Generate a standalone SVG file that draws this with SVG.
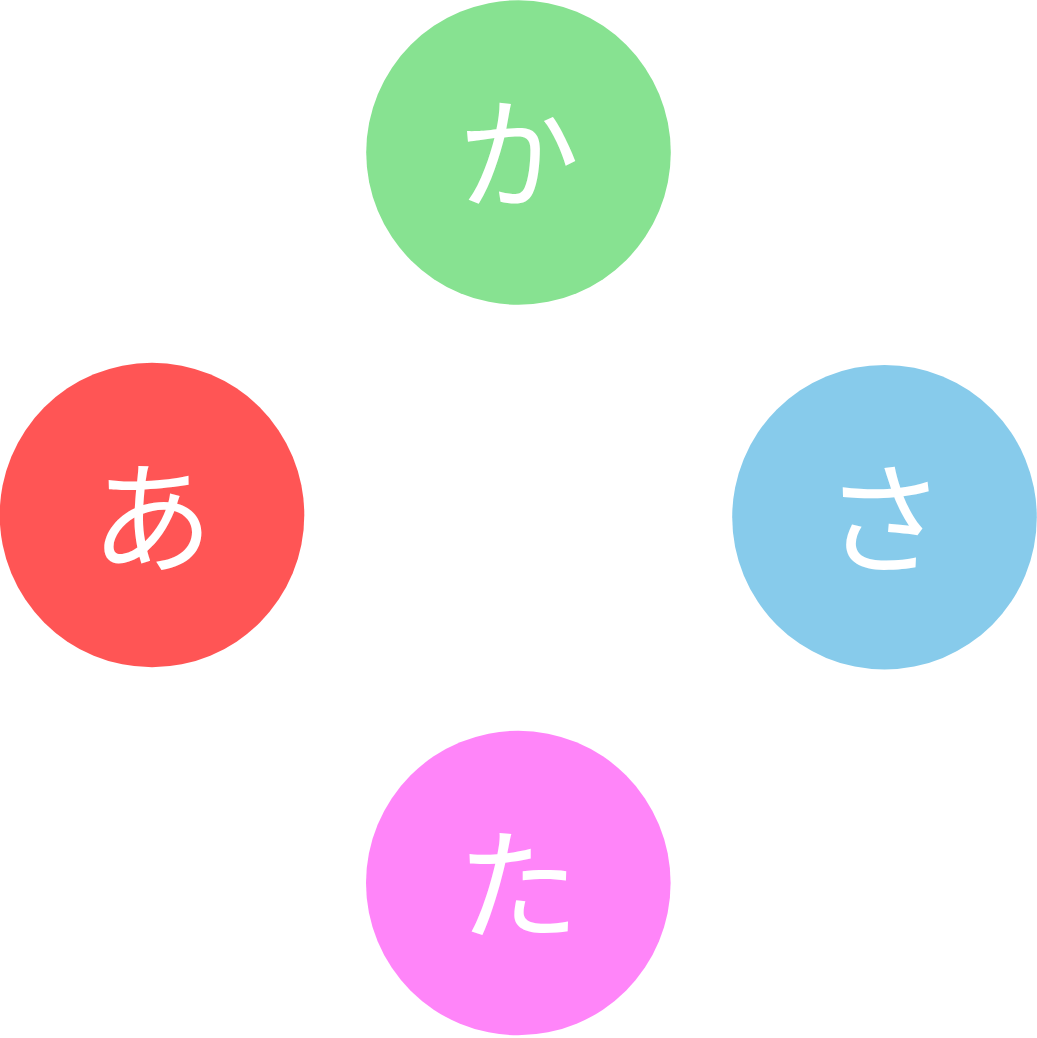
<svg xmlns="http://www.w3.org/2000/svg" width="1037" height="1038" viewBox="0 0 1037 1038">
<style>
.lbl{font-family:"Noto Sans CJK JP","Noto Sans CJK SC",sans-serif;font-size:122px;fill:#ffffff;text-anchor:middle;dominant-baseline:central;font-weight:400}
</style>
<rect width="1037" height="1038" fill="#ffffff"/>
<g id="connectors"></g>
<g id="node-ka"><circle cx="518.5" cy="152.5" r="152.3" fill="#87E291"/><text class="lbl" x="518.5" y="145">か</text></g>
<g id="node-a"><circle cx="152" cy="515" r="152.3" fill="#FF5555"/><text class="lbl" x="152" y="509">あ</text></g>
<g id="node-sa"><circle cx="884.5" cy="517.2" r="152.3" fill="#87CBEB"/><text class="lbl" x="884.5" y="510">さ</text></g>
<g id="node-ta"><circle cx="518.3" cy="883" r="152.3" fill="#FF85F9"/><text class="lbl" x="518.3" y="876">た</text></g>
</svg>
